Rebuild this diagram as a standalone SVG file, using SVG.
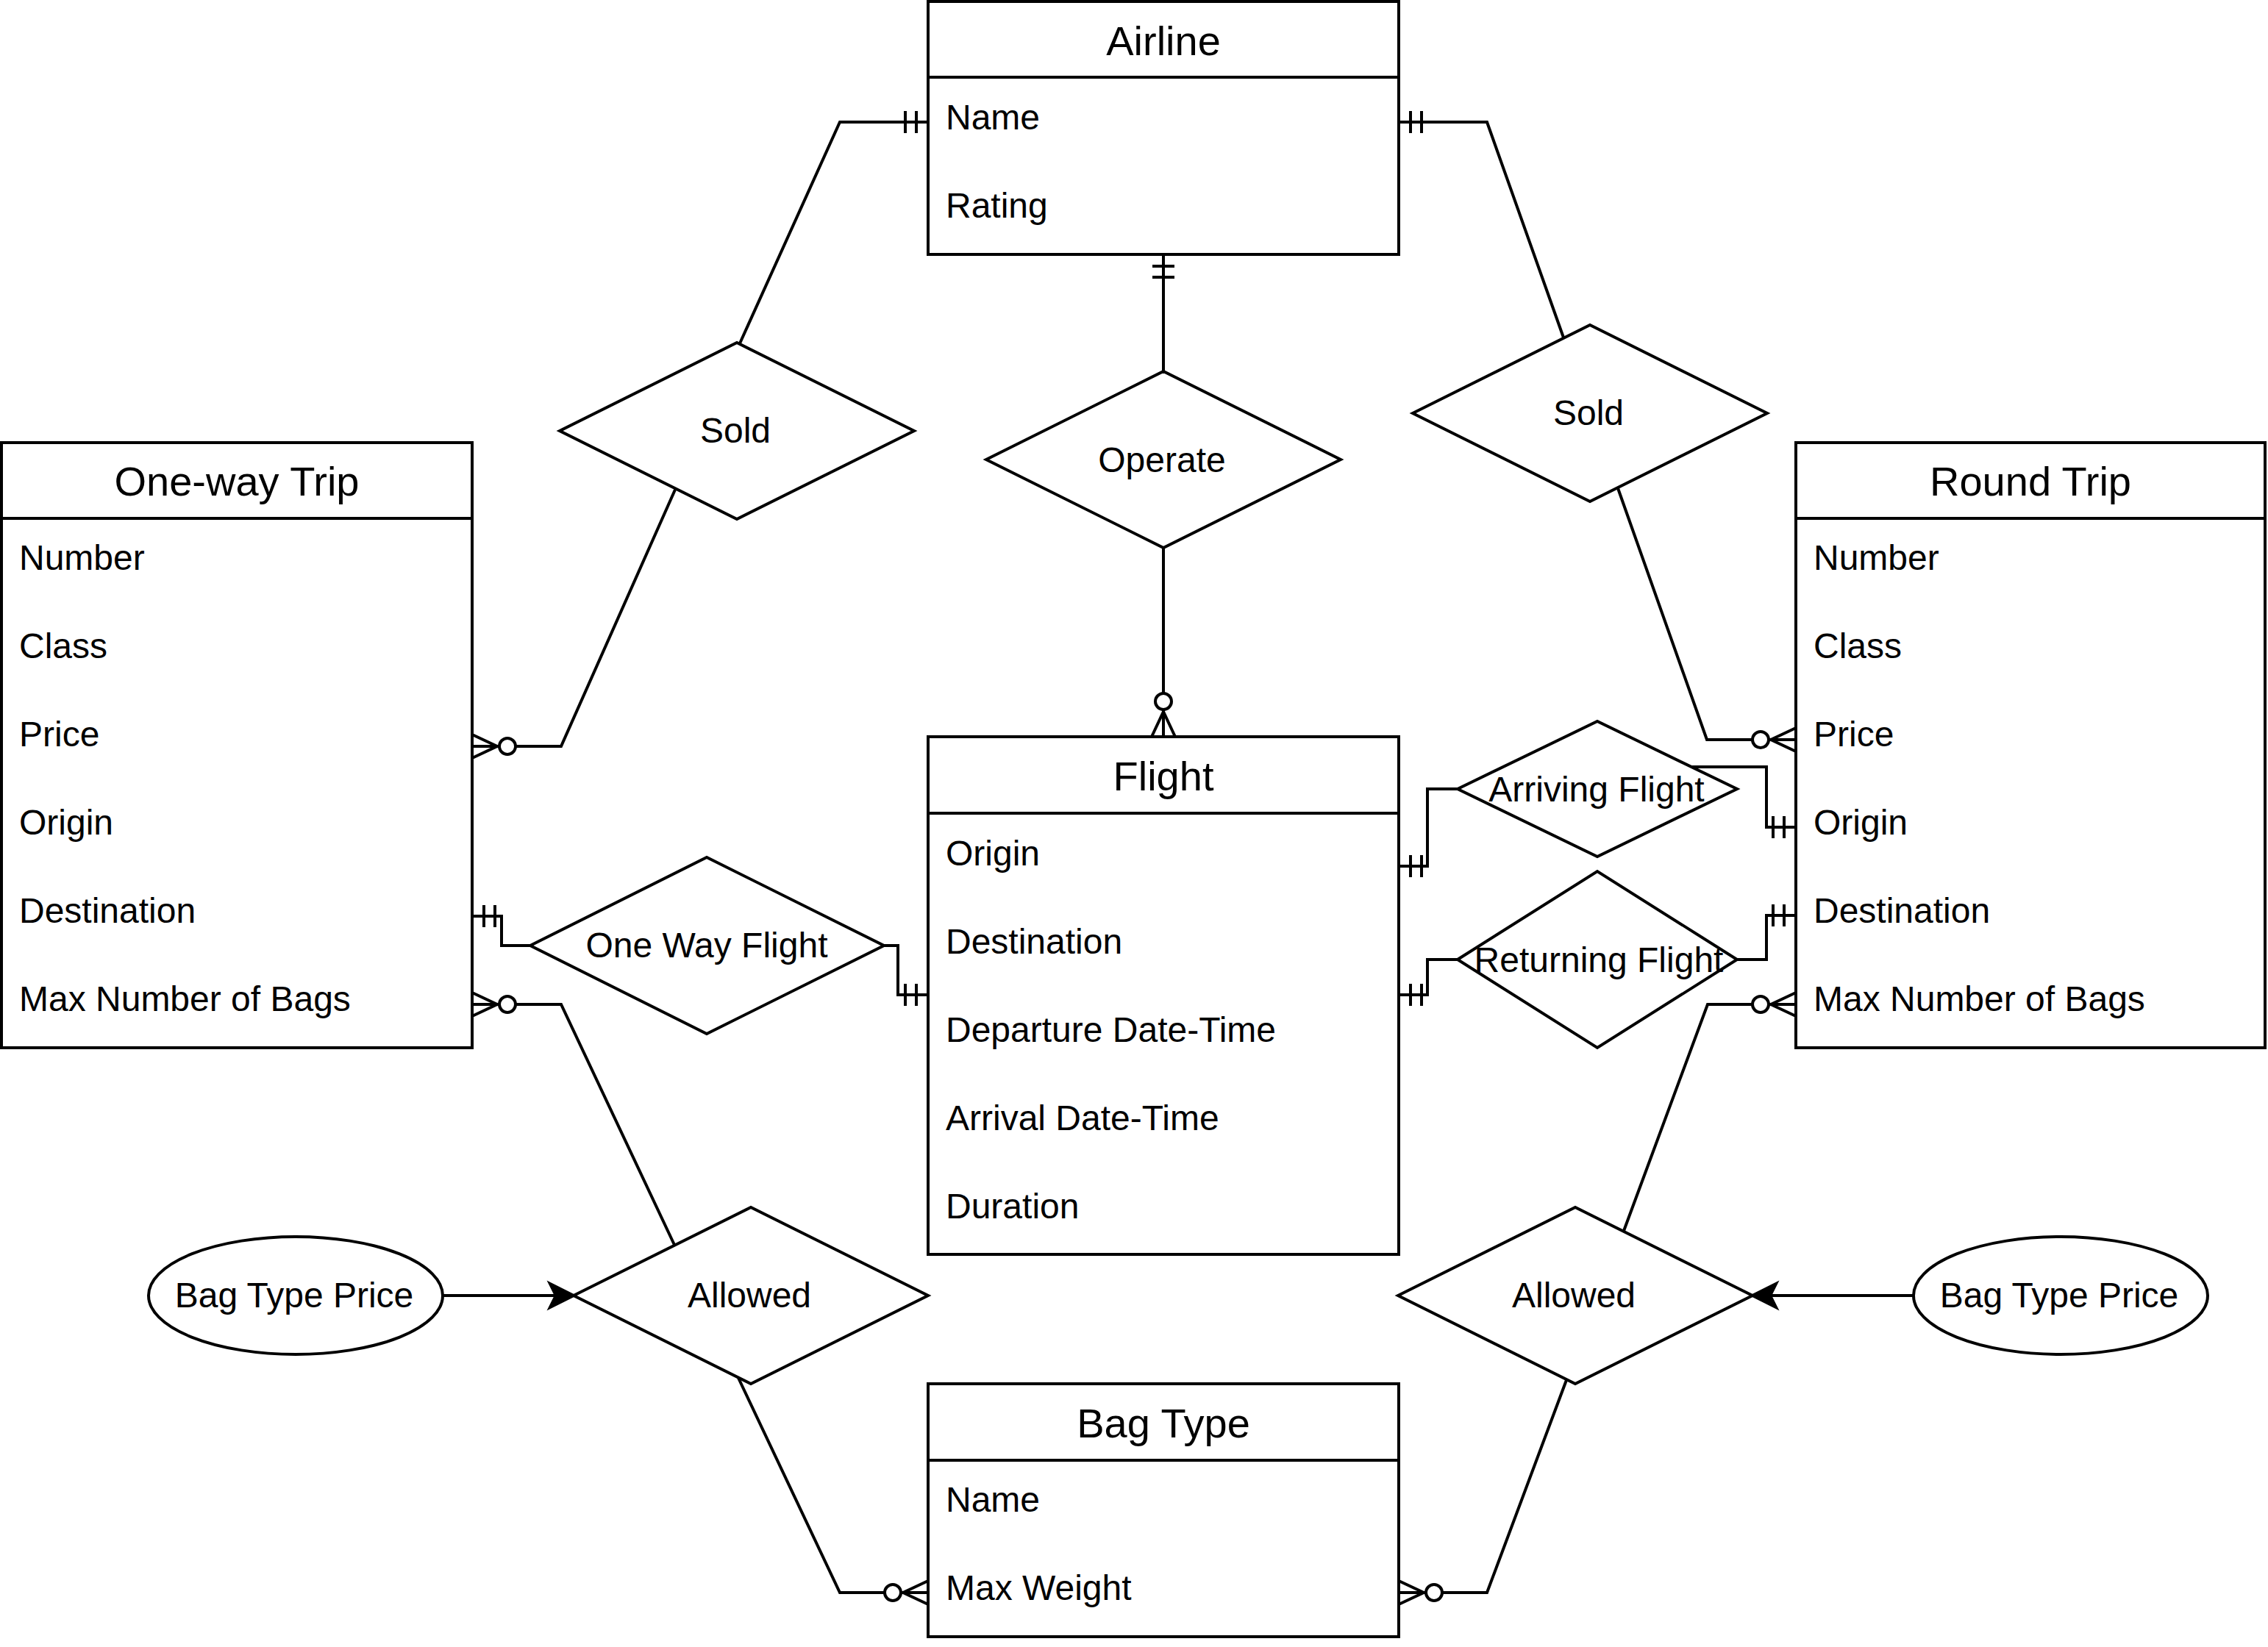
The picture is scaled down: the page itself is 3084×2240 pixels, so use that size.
<svg xmlns="http://www.w3.org/2000/svg" width="3084" height="2240" viewBox="0 0 3084 2240">
<defs>
<style>
.box{fill:#fff;stroke:#000;stroke-width:4}
.ln{fill:none;stroke:#000;stroke-width:4}
.dia{fill:#fff;stroke:#000;stroke-width:4}
.ell{fill:#fff;stroke:#000;stroke-width:4}
text{font-family:"Liberation Sans",Arial,Helvetica,sans-serif;fill:#000}
.h{font-size:56px;text-anchor:middle}
.a{font-size:48px}
.m{font-size:48px;text-anchor:middle}
.c{fill:none;stroke:#000;stroke-width:4}
.one{marker-end:url(#one)}
.zm{marker-end:url(#zmany)}
.ar{marker-end:url(#arrow)}
</style>
<marker id="one" markerUnits="userSpaceOnUse" orient="auto" refX="0" refY="0" markerWidth="100" markerHeight="100" overflow="visible">
<path d="M-16,-15 V15 M-31,-15 V15" fill="none" stroke="#000" stroke-width="4"/>
</marker>
<marker id="zmany" markerUnits="userSpaceOnUse" orient="auto" refX="0" refY="0" markerWidth="100" markerHeight="100" overflow="visible">
<path d="M0,-16 L-34,0 L0,16 M0,0 H-34" fill="none" stroke="#000" stroke-width="4"/>
<circle cx="-48" cy="0" r="11" fill="#fff" stroke="#000" stroke-width="4"/>
</marker>
<marker id="arrow" markerUnits="userSpaceOnUse" orient="auto" refX="0" refY="0" markerWidth="100" markerHeight="100" overflow="visible">
<path d="M24,0 L-8,-16 L0,0 L-8,16 Z" fill="#000" stroke="#000" stroke-width="4"/>
</marker>
</defs>
<rect width="3084" height="2240" fill="#fff"/>

<g id="connectors">
<path class="c one" d="M1006,467 L1142,166 L1262,166"/>
<path class="c zm" d="M918,666 L763,1015 L642,1015"/>
<path class="c one" d="M2126,459 L2022,166 L1902,166"/>
<path class="c zm" d="M2200,664 L2321,1006 L2442,1006"/>
<path class="c one" d="M1582,505 L1582,346"/>
<path class="c zm" d="M1582,745 L1582,1002"/>
<path class="c one" d="M721,1286 L682,1286 L682,1246 L642,1246"/>
<path class="c one" d="M1202,1286 L1221,1286 L1221,1353 L1262,1353"/>
<path class="c one" d="M1982,1073 L1941,1073 L1941,1178 L1902,1178"/>
<path class="c one" d="M2300,1043 L2402,1043 L2402,1125 L2442,1125"/>
<path class="c one" d="M1982,1305 L1941,1305 L1941,1353 L1902,1353"/>
<path class="c one" d="M2362,1305 L2402,1305 L2402,1245 L2442,1245"/>
<path class="c zm" d="M917,1693 L763,1366 L642,1366"/>
<path class="c zm" d="M1004,1874 L1142,2166 L1262,2166"/>
<path class="c zm" d="M2208,1674 L2322,1366 L2442,1366"/>
<path class="c zm" d="M2130,1877 L2022,2166 L1902,2166"/>
<path class="c ar" d="M602,1762 L756,1762"/>
<path class="c ar" d="M2602,1762 L2407,1762"/>
</g>

<g id="airline">
<rect class="box" x="1262" y="2" width="640" height="344"/>
<line class="ln" x1="1262" y1="105" x2="1902" y2="105"/>
<text class="h" x="1582" y="75">Airline</text>
<text class="a" x="1286" y="176">Name</text>
<text class="a" x="1286" y="296">Rating</text>
</g>

<g id="one-way-trip">
<rect class="box" x="2" y="602" width="640" height="823"/>
<line class="ln" x1="2" y1="705" x2="642" y2="705"/>
<text class="h" x="322" y="674">One-way Trip</text>
<text class="a" x="26" y="775">Number</text>
<text class="a" x="26" y="895">Class</text>
<text class="a" x="26" y="1015">Price</text>
<text class="a" x="26" y="1135">Origin</text>
<text class="a" x="26" y="1255">Destination</text>
<text class="a" x="26" y="1375">Max Number of Bags</text>
</g>

<g id="round-trip">
<rect class="box" x="2442" y="602" width="638" height="823"/>
<line class="ln" x1="2442" y1="705" x2="3080" y2="705"/>
<text class="h" x="2761" y="674">Round Trip</text>
<text class="a" x="2466" y="775">Number</text>
<text class="a" x="2466" y="895">Class</text>
<text class="a" x="2466" y="1015">Price</text>
<text class="a" x="2466" y="1135">Origin</text>
<text class="a" x="2466" y="1255">Destination</text>
<text class="a" x="2466" y="1375">Max Number of Bags</text>
</g>

<g id="flight">
<rect class="box" x="1262" y="1002" width="640" height="704"/>
<line class="ln" x1="1262" y1="1106" x2="1902" y2="1106"/>
<text class="h" x="1582" y="1075">Flight</text>
<text class="a" x="1286" y="1177">Origin</text>
<text class="a" x="1286" y="1297">Destination</text>
<text class="a" x="1286" y="1417">Departure Date-Time</text>
<text class="a" x="1286" y="1537">Arrival Date-Time</text>
<text class="a" x="1286" y="1657">Duration</text>
</g>

<g id="bag-type">
<rect class="box" x="1262" y="1882" width="640" height="344"/>
<line class="ln" x1="1262" y1="1986" x2="1902" y2="1986"/>
<text class="h" x="1582" y="1955">Bag Type</text>
<text class="a" x="1286" y="2056">Name</text>
<text class="a" x="1286" y="2176">Max Weight</text>
</g>

<g id="sold-left">
<polygon class="dia" points="761,586 1002,466 1243,586 1002,706"/>
<text class="m" x="1000" y="602">Sold</text>
</g>

<g id="sold-right">
<polygon class="dia" points="1921,562 2162,442 2403,562 2162,682"/>
<text class="m" x="2160" y="578">Sold</text>
</g>

<g id="operate">
<polygon class="dia" points="1341,625 1582,505 1823,625 1582,745"/>
<text class="m" x="1580" y="642">Operate</text>
</g>

<g id="one-way-flight">
<polygon class="dia" points="721,1286 961,1166 1202,1286 961,1406"/>
<text class="m" x="961" y="1302">One Way Flight</text>
</g>

<g id="arriving-flight">
<polygon class="dia" points="1982,1073 2172,981 2362,1073 2172,1165"/>
<text class="m" x="2171" y="1090">Arriving Flight</text>
</g>

<g id="returning-flight">
<polygon class="dia" points="1982,1305 2172,1185 2362,1305 2172,1425"/>
<text class="m" x="2174" y="1322">Returning Flight</text>
</g>

<g id="allowed-left">
<polygon class="dia" points="780,1762 1021,1642 1262,1762 1021,1882"/>
<text class="m" x="1019" y="1778">Allowed</text>
</g>

<g id="allowed-right">
<polygon class="dia" points="1901,1762 2142,1642 2383,1762 2142,1882"/>
<text class="m" x="2140" y="1778">Allowed</text>
</g>

<g id="bag-type-price-left">
<ellipse class="ell" cx="402" cy="1762" rx="200" ry="80"/>
<text class="m" x="400" y="1778">Bag Type Price</text>
</g>

<g id="bag-type-price-right">
<ellipse class="ell" cx="2802" cy="1762" rx="200" ry="80"/>
<text class="m" x="2800" y="1778">Bag Type Price</text>
</g>
</svg>
